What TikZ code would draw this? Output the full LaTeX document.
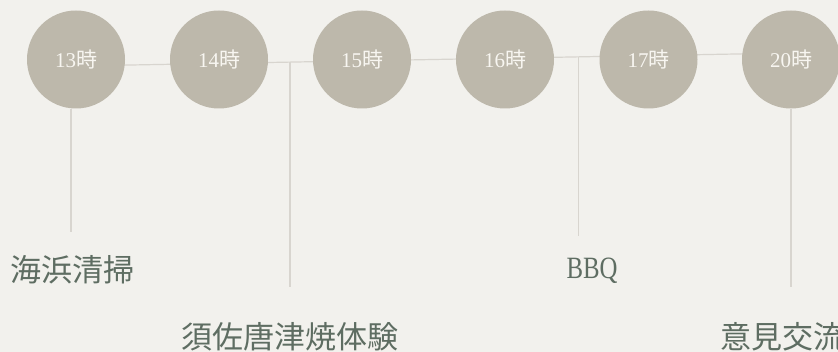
\documentclass[tikz,border=0pt]{standalone}
\usepackage{fontspec}
\setmainfont{Liberation Serif}
\newfontfamily\cjk{Noto Sans CJK JP}
\newfontfamily\narrowserif[FakeStretch=0.8]{Liberation Serif}
\definecolor{bgc}{HTML}{F2F1ED}
\definecolor{circc}{HTML}{BDB8AB}
\definecolor{linec}{HTML}{D8D5CF}
\definecolor{labelc}{HTML}{5E6D62}
\definecolor{ctext}{HTML}{F8F6F1}
\tikzset{
  hour/.style={circle, fill=circc, minimum size=98pt, inner sep=0pt, text=ctext, font=\fontsize{21}{21}\selectfont},
  conn/.style={draw=linec, line width=1.2pt},
  evlabel/.style={text=labelc, font=\fontsize{31}{31}\cjk, inner sep=0pt},
}
\begin{document}
\begin{tikzpicture}[x=1pt,y=-1pt]
\fill[bgc] (0,0) rectangle (838,352);
\useasboundingbox (0,0) rectangle (838,352);
% horizontal timeline
\coordinate (hl) at (76,66);
\coordinate (hr) at (791,53);
\draw[conn] (hl) -- (hr);
% branch points on the timeline
\coordinate (b2) at (290,62.1);
\coordinate (b3) at (578.7,56.9);
% circles
\node[hour] (c1) at (76,59.5) {13{\cjk 時}};
\node[hour] (c2) at (219,59.5) {14{\cjk 時}};
\node[hour] (c3) at (362,59.5) {15{\cjk 時}};
\node[hour] (c4) at (505,59.5) {16{\cjk 時}};
\node[hour] (c5) at (648.5,59.5) {17{\cjk 時}};
\node[hour] (c6) at (791,59.5) {20{\cjk 時}};
% labels
\node[evlabel, anchor=west] (l1) at (10,270) {海浜清掃};
\node[evlabel] (l2) at (290,336.5) {須佐唐津焼体験};
\node[evlabel, font=\fontsize{31}{31}\narrowserif] (l3) at (592,270.5) {BBQ};
\node[evlabel, anchor=west] (l4) at (720,336.5) {意見交流};
% vertical connectors
\coordinate (e1) at (71,232);
\coordinate (e2) at (290,287);
\coordinate (e3) at (578.7,236);
\coordinate (e4) at (791,287);
\draw[conn] (c1.south -| e1) -- (e1);
\draw[conn] (b2) -- (e2);
\draw[conn] (b3) -- (e3);
\draw[conn] (c6.south) -- (e4);
\end{tikzpicture}
\end{document}
